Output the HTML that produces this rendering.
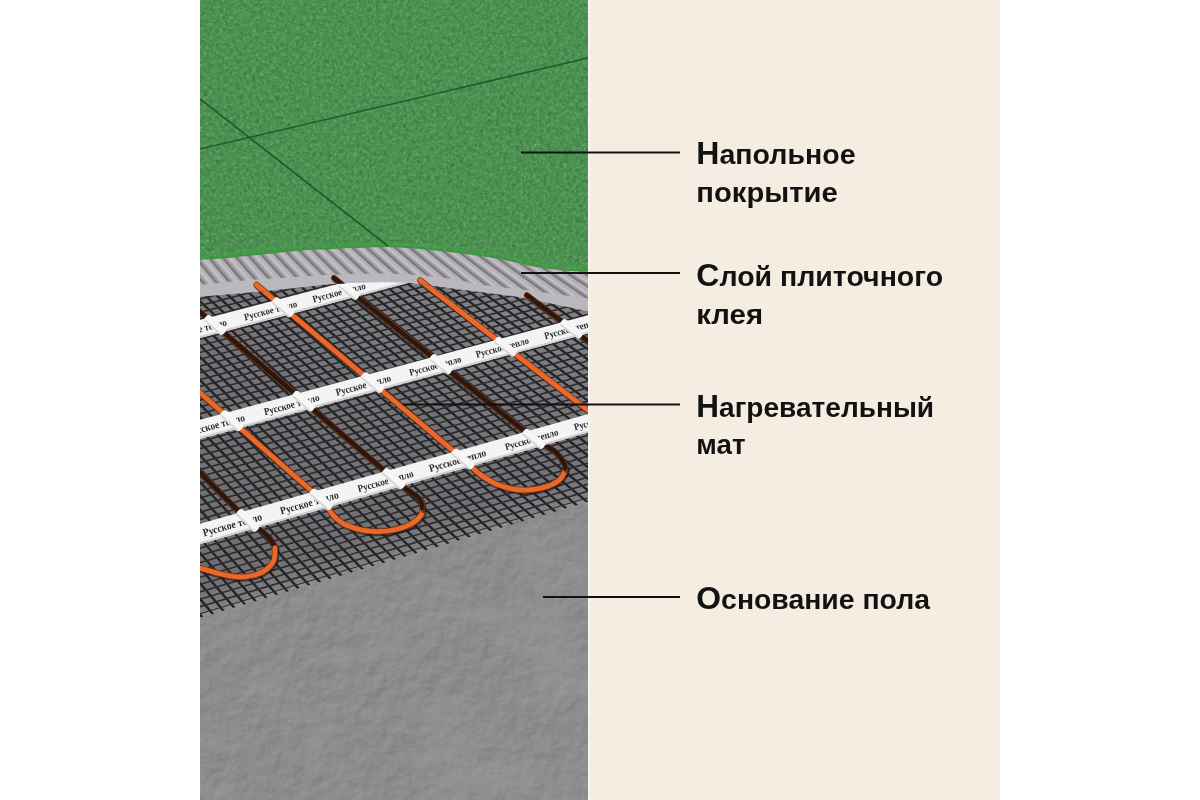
<!DOCTYPE html>
<html><head><meta charset="utf-8"><style>
html,body{margin:0;padding:0;background:#fff;}
body{width:1200px;height:800px;position:relative;overflow:hidden;}
</style></head><body>
<svg width="1200" height="800" viewBox="0 0 1200 800" style="position:absolute;left:0;top:0"><defs>
<clipPath id="ph"><rect x="200" y="0" width="388" height="800"/></clipPath>
<filter id="noiseG" x="0" y="0" width="100%" height="100%" color-interpolation-filters="sRGB">
  <feTurbulence type="fractalNoise" baseFrequency="0.25" numOctaves="3" seed="11" result="m"/>
  <feColorMatrix in="m" type="matrix" values="0 0 0 0 0.2  0 0 0 0 0.42  0 0 0 0 0.24  0 0 0 1.6 -0.72" result="mc"/>
  <feComposite in="mc" in2="SourceGraphic" operator="in" result="mk"/>
  <feTurbulence type="fractalNoise" baseFrequency="0.3" numOctaves="3" seed="5" result="m2"/>
  <feColorMatrix in="m2" type="matrix" values="0 0 0 0 0.42  0 0 0 0 0.7  0 0 0 0 0.45  0 0 0 1.6 -0.72" result="mc2"/>
  <feComposite in="mc2" in2="SourceGraphic" operator="in" result="mk2"/>
  <feTurbulence type="fractalNoise" baseFrequency="0.9" numOctaves="1" seed="3" result="n"/>
  <feColorMatrix in="n" type="matrix" values="0 0 0 0 0.7  0 0 0 0 0.9  0 0 0 0 0.7  0 0 0 3 -2.0" result="w"/>
  <feComposite in="w" in2="SourceGraphic" operator="in" result="wc"/>
  <feMerge><feMergeNode in="SourceGraphic"/><feMergeNode in="mk"/><feMergeNode in="mk2"/><feMergeNode in="wc"/></feMerge>
</filter>
<filter id="noiseC" x="0" y="0" width="100%" height="100%" color-interpolation-filters="sRGB">
  <feTurbulence type="fractalNoise" baseFrequency="0.07" numOctaves="4" seed="9" result="t"/>
  <feDiffuseLighting in="t" surfaceScale="1.6" diffuseConstant="1" lighting-color="#ffffff" result="l"><feDistantLight azimuth="235" elevation="50"/></feDiffuseLighting>
  <feComposite in="SourceGraphic" in2="l" operator="arithmetic" k1="0" k2="1" k3="0.22" k4="-0.165" result="lit"/>
  <feTurbulence type="fractalNoise" baseFrequency="0.012 0.02" numOctaves="2" seed="4" result="n"/>
  <feColorMatrix in="n" type="matrix" values="0 0 0 0 0.62  0 0 0 0 0.62  0 0 0 0 0.63  0 0 0 1.0 -0.42" result="w"/>
  <feComposite in="w" in2="SourceGraphic" operator="in" result="wc"/>
  <feMerge><feMergeNode in="lit"/><feMergeNode in="wc"/></feMerge>
</filter>
<pattern id="ribs" patternUnits="userSpaceOnUse" width="9" height="9" patternTransform="rotate(-40)">
  <rect width="9" height="9" fill="#a9a7ac"/>
  <rect x="0" width="2.6" height="9" fill="#6f6d72"/>
  <rect x="2.6" width="1.4" height="9" fill="#8a888d"/>
  <rect x="6.2" width="1.6" height="9" fill="#b8b6bb"/>
</pattern>
<pattern id="mesh" patternUnits="userSpaceOnUse" width="8.6" height="7.4" patternTransform="matrix(0.966,-0.259,0.77,0.638,0,0)">
  <path d="M0,0 H8.6 V7.4 H0 Z M1.9,1.9 V7.2 H8.4 V1.9 Z" fill="#1c1b1d" fill-rule="evenodd"/>
  <rect x="2.6" y="2.5" width="5.0" height="4.0" fill="#ffffff" opacity="0.07"/>
</pattern>
<linearGradient id="meshbg" gradientUnits="userSpaceOnUse" x1="420" y1="290" x2="330" y2="600">
  <stop offset="0" stop-color="#807f83"/><stop offset="0.4" stop-color="#737276"/><stop offset="1" stop-color="#707073"/>
</linearGradient>
</defs><rect x="588" y="0" width="412" height="800" fill="#f5ede1"/><rect x="588" y="0" width="1.6" height="800" fill="#faf6ef"/><g clip-path="url(#ph)" style="will-change:opacity" opacity="0.999"><rect x="200" y="0" width="388" height="800" fill="#8b8b8d" filter="url(#noiseC)"/><path d="M200.0,291.7 C208.3,291.0 233.3,289.0 250.0,287.5 C266.7,286.0 286.2,283.9 300.0,282.5 C313.8,281.1 321.8,279.8 333.0,279.0 C344.2,278.2 355.8,277.8 367.0,277.5 C378.2,277.2 391.7,277.2 400.0,277.5 C408.3,277.8 403.7,277.4 417.0,279.0 C430.3,280.6 463.4,284.9 480.0,287.0 C496.6,289.1 504.5,289.7 516.7,291.7 C528.9,293.7 541.5,296.6 553.4,299.0 C565.3,301.4 582.2,305.2 588.0,306.4 L588,498.2 L200,614.2 Z" fill="url(#meshbg)"/><linearGradient id="edgeg" gradientUnits="userSpaceOnUse" x1="391.4" y1="528.7" x2="400.0" y2="557.4"><stop offset="0" stop-color="#8a898c" stop-opacity="0"/><stop offset="1" stop-color="#8a898c" stop-opacity="0.75"/></linearGradient><path d="M200.0,291.7 C208.3,291.0 233.3,289.0 250.0,287.5 C266.7,286.0 286.2,283.9 300.0,282.5 C313.8,281.1 321.8,279.8 333.0,279.0 C344.2,278.2 355.8,277.8 367.0,277.5 C378.2,277.2 391.7,277.2 400.0,277.5 C408.3,277.8 403.7,277.4 417.0,279.0 C430.3,280.6 463.4,284.9 480.0,287.0 C496.6,289.1 504.5,289.7 516.7,291.7 C528.9,293.7 541.5,296.6 553.4,299.0 C565.3,301.4 582.2,305.2 588.0,306.4 L588,498.2 L200,614.2 Z" fill="url(#edgeg)"/><clipPath id="teethc"><path d="M200.0,291.7 C208.3,291.0 233.3,289.0 250.0,287.5 C266.7,286.0 286.2,283.9 300.0,282.5 C313.8,281.1 321.8,279.8 333.0,279.0 C344.2,278.2 355.8,277.8 367.0,277.5 C378.2,277.2 391.7,277.2 400.0,277.5 C408.3,277.8 403.7,277.4 417.0,279.0 C430.3,280.6 463.4,284.9 480.0,287.0 C496.6,289.1 504.5,289.7 516.7,291.7 C528.9,293.7 541.5,296.6 553.4,299.0 C565.3,301.4 582.2,305.2 588.0,306.4 L588,501.7 L200,617.7 Z"/></clipPath><clipPath id="meshc"><path d="M200.0,291.7 C208.3,291.0 233.3,289.0 250.0,287.5 C266.7,286.0 286.2,283.9 300.0,282.5 C313.8,281.1 321.8,279.8 333.0,279.0 C344.2,278.2 355.8,277.8 367.0,277.5 C378.2,277.2 391.7,277.2 400.0,277.5 C408.3,277.8 403.7,277.4 417.0,279.0 C430.3,280.6 463.4,284.9 480.0,287.0 C496.6,289.1 504.5,289.7 516.7,291.7 C528.9,293.7 541.5,296.6 553.4,299.0 C565.3,301.4 582.2,305.2 588.0,306.4 L588,498.2 L200,614.2 Z"/></clipPath><path clip-path="url(#teethc)" d="M78.2,661.9 L-172.8,314.8 M89.0,658.7 L-164.2,313.0 M99.7,655.4 L-155.5,311.3 M110.4,652.2 L-146.8,309.6 M121.2,649.0 L-138.1,307.9 M131.9,645.8 L-129.4,306.3 M142.7,642.5 L-120.6,304.6 M153.4,639.3 L-111.9,302.9 M164.1,636.1 L-103.1,301.2 M174.9,632.8 L-94.3,299.6 M185.6,629.6 L-85.5,297.9 M196.4,626.4 L-76.6,296.2 M207.1,623.1 L-67.8,294.6 M217.8,619.9 L-58.9,292.9 M228.6,616.7 L-50.0,291.2 M239.3,613.5 L-41.1,289.6 M250.0,610.2 L-32.2,287.9 M260.8,607.0 L-23.3,286.3 M271.5,603.8 L-14.3,284.7 M282.2,600.5 L-5.3,283.0 M293.0,597.3 L3.6,281.4 M303.7,594.1 L12.7,279.7 M314.4,590.8 L21.7,278.1 M325.2,587.6 L30.7,276.4 M335.9,584.4 L39.8,274.8 M346.6,581.1 L48.9,273.2 M357.4,577.9 L58.0,271.5 M368.1,574.7 L67.1,269.9 M378.8,571.5 L76.2,268.2 M389.6,568.2 L85.4,266.6 M400.3,565.0 L94.5,264.9 M411.0,561.8 L103.7,263.3 M421.8,558.5 L112.9,261.7 M432.5,555.3 L122.1,260.0 M443.2,552.1 L131.3,258.4 M453.9,548.8 L140.6,256.7 M464.7,545.6 L149.9,255.1 M475.4,542.4 L159.1,253.4 M486.1,539.2 L168.4,251.8 M496.9,535.9 L177.7,250.1 M507.6,532.7 L187.1,248.4 M518.3,529.5 L196.4,246.8 M529.0,526.2 L205.8,245.1 M539.8,523.0 L215.2,243.4 M550.5,519.8 L224.5,241.8 M561.2,516.5 L233.9,240.1 M571.9,513.3 L243.4,238.4 M582.7,510.1 L252.8,236.7 M593.4,506.9 L262.3,235.1 M604.1,503.6 L271.7,233.4 M614.8,500.4 L281.2,231.7 M625.6,497.2 L290.7,230.0 M636.3,493.9 L300.2,228.3 M647.0,490.7 L309.7,226.6 M657.7,487.5 L319.3,224.9 M668.5,484.2 L328.8,223.1 M679.2,481.0 L338.4,221.4 M689.9,477.8 L348.0,219.7 M700.6,474.6 L357.6,218.0 M711.3,471.3 L367.2,216.2 M722.1,468.1 L376.8,214.5 M732.8,464.9 L386.4,212.8 M743.5,461.6 L396.1,211.0 M754.2,458.4 L405.7,209.3 M765.0,455.2 L415.4,207.5 M775.7,452.0 L425.1,205.7 M786.4,448.7 L434.8,204.0 M797.1,445.5 L444.5,202.2" stroke="#222123" stroke-width="2.3" fill="none"/><path clip-path="url(#meshc)" d="M195,615.5 L595,496.0 M195,608.1 L595,489.0 M195,600.7 L595,482.0 M195,593.4 L595,475.0 M195,586.0 L595,468.0 M195,578.7 L595,461.1 M195,571.4 L595,454.1 M195,564.1 L595,447.2 M195,556.8 L595,440.3 M195,549.6 L595,433.4 M195,542.3 L595,426.5 M195,535.1 L595,419.7 M195,527.9 L595,412.8 M195,520.8 L595,406.0 M195,513.6 L595,399.2 M195,506.5 L595,392.4 M195,499.3 L595,385.7 M195,492.2 L595,378.9 M195,485.1 L595,372.2 M195,478.1 L595,365.5 M195,471.0 L595,358.8 M195,464.0 L595,352.1 M195,457.0 L595,345.4 M195,450.0 L595,338.8 M195,443.0 L595,332.2 M195,436.0 L595,325.5 M195,429.1 L595,318.9 M195,422.2 L595,312.4 M195,415.2 L595,305.8 M195,408.3 L595,299.2 M195,401.5 L595,292.7 M195,394.6 L595,286.2 M195,387.8 L595,279.7 M195,381.0 L595,273.2 M195,374.1 L595,266.8 M195,367.4 L595,260.3 M195,360.6 L595,253.9 M195,353.8 L595,247.5 M195,347.1 L595,241.1 M195,340.4 L595,234.7 M195,333.7 L595,228.3 M195,327.0 L595,222.0 M195,320.3 L595,215.6 M195,313.7 L595,209.3 M195,307.0 L595,203.0 M195,300.4 L595,196.7 M195,293.8 L595,190.4 M195,287.2 L595,184.2 M195,280.7 L595,177.9 M195,274.1 L595,171.7 M195,267.6 L595,165.5 M195,261.0 L595,159.3 M195,254.5 L595,153.1 M195,248.1 L595,147.0 M195,241.6 L595,140.8" stroke="#2c2b2e" stroke-width="1.6" fill="none"/><path d="M180.0,453.0 L252.5,525.0" transform="translate(1.2,1.6)" fill="none" stroke="#141012" stroke-width="6.4" stroke-linecap="round" opacity="0.55"/><path d="M180.0,453.0 L252.5,525.0" fill="none" stroke="#8a3a18" stroke-width="6.0" stroke-linecap="round"/><path d="M180.0,453.0 L252.5,525.0" fill="none" stroke="#2a1710" stroke-width="4.6" stroke-linecap="round"/><path d="M190.0,384.0 L326.8,504.3" transform="translate(1.2,1.6)" fill="none" stroke="#141012" stroke-width="6.4" stroke-linecap="round" opacity="0.55"/><path d="M190.0,384.0 L326.8,504.3" fill="none" stroke="#7a2e0e" stroke-width="6.2" stroke-linecap="round"/><path d="M190.0,384.0 L326.8,504.3" fill="none" stroke="#e8692a" stroke-width="4.8" stroke-linecap="round"/><path d="M195.0,307.7 L399.0,483.3" transform="translate(1.2,1.6)" fill="none" stroke="#141012" stroke-width="6.4" stroke-linecap="round" opacity="0.55"/><path d="M195.0,307.7 L399.0,483.3" fill="none" stroke="#8a3a18" stroke-width="6.0" stroke-linecap="round"/><path d="M195.0,307.7 L399.0,483.3" fill="none" stroke="#2a1710" stroke-width="4.6" stroke-linecap="round"/><path d="M256.6,284.9 L468.7,463.8" transform="translate(1.2,1.6)" fill="none" stroke="#141012" stroke-width="6.4" stroke-linecap="round" opacity="0.55"/><path d="M256.6,284.9 L468.7,463.8" fill="none" stroke="#7a2e0e" stroke-width="6.2" stroke-linecap="round"/><path d="M256.6,284.9 L468.7,463.8" fill="none" stroke="#e8692a" stroke-width="4.8" stroke-linecap="round"/><path d="M334.0,278.0 L538.7,442.7" transform="translate(1.2,1.6)" fill="none" stroke="#141012" stroke-width="6.4" stroke-linecap="round" opacity="0.55"/><path d="M334.0,278.0 L538.7,442.7" fill="none" stroke="#8a3a18" stroke-width="6.0" stroke-linecap="round"/><path d="M334.0,278.0 L538.7,442.7" fill="none" stroke="#2a1710" stroke-width="4.6" stroke-linecap="round"/><path d="M420.3,280.5 L600.0,419.7" transform="translate(1.2,1.6)" fill="none" stroke="#141012" stroke-width="6.4" stroke-linecap="round" opacity="0.55"/><path d="M420.3,280.5 L600.0,419.7" fill="none" stroke="#7a2e0e" stroke-width="6.2" stroke-linecap="round"/><path d="M420.3,280.5 L600.0,419.7" fill="none" stroke="#e8692a" stroke-width="4.8" stroke-linecap="round"/><path d="M526.8,295.2 L600.0,350.1" transform="translate(1.2,1.6)" fill="none" stroke="#141012" stroke-width="6.4" stroke-linecap="round" opacity="0.55"/><path d="M526.8,295.2 L600.0,350.1" fill="none" stroke="#8a3a18" stroke-width="6.0" stroke-linecap="round"/><path d="M526.8,295.2 L600.0,350.1" fill="none" stroke="#2a1710" stroke-width="4.6" stroke-linecap="round"/><path d="M252.5,525.0 C254.2,526.2 259.9,529.5 263.0,532.0 C266.1,534.5 269.0,537.3 271.0,540.0 C273.0,542.7 274.3,546.7 275.0,548.0" transform="translate(1.2,1.6)" fill="none" stroke="#141012" stroke-width="6.4" stroke-linecap="round" opacity="0.55"/><path d="M252.5,525.0 C254.2,526.2 259.9,529.5 263.0,532.0 C266.1,534.5 269.0,537.3 271.0,540.0 C273.0,542.7 274.3,546.7 275.0,548.0" fill="none" stroke="#8a3a18" stroke-width="6.0" stroke-linecap="round"/><path d="M252.5,525.0 C254.2,526.2 259.9,529.5 263.0,532.0 C266.1,534.5 269.0,537.3 271.0,540.0 C273.0,542.7 274.3,546.7 275.0,548.0" fill="none" stroke="#2a1710" stroke-width="4.6" stroke-linecap="round"/><path d="M275.0,548.0 C274.8,550.0 275.3,556.5 274.0,560.0 C272.7,563.5 270.2,566.5 267.0,569.0 C263.8,571.5 259.5,573.7 255.0,575.0 C250.5,576.3 245.0,577.0 240.0,577.0 C235.0,577.0 230.0,576.0 225.0,575.0 C220.0,574.0 214.2,572.2 210.0,571.0 C205.8,569.8 204.2,569.5 200.0,568.0 C195.8,566.5 187.5,563.0 185.0,562.0" transform="translate(1.2,1.6)" fill="none" stroke="#141012" stroke-width="6.4" stroke-linecap="round" opacity="0.55"/><path d="M275.0,548.0 C274.8,550.0 275.3,556.5 274.0,560.0 C272.7,563.5 270.2,566.5 267.0,569.0 C263.8,571.5 259.5,573.7 255.0,575.0 C250.5,576.3 245.0,577.0 240.0,577.0 C235.0,577.0 230.0,576.0 225.0,575.0 C220.0,574.0 214.2,572.2 210.0,571.0 C205.8,569.8 204.2,569.5 200.0,568.0 C195.8,566.5 187.5,563.0 185.0,562.0" fill="none" stroke="#7a2e0e" stroke-width="6.2" stroke-linecap="round"/><path d="M275.0,548.0 C274.8,550.0 275.3,556.5 274.0,560.0 C272.7,563.5 270.2,566.5 267.0,569.0 C263.8,571.5 259.5,573.7 255.0,575.0 C250.5,576.3 245.0,577.0 240.0,577.0 C235.0,577.0 230.0,576.0 225.0,575.0 C220.0,574.0 214.2,572.2 210.0,571.0 C205.8,569.8 204.2,569.5 200.0,568.0 C195.8,566.5 187.5,563.0 185.0,562.0" fill="none" stroke="#e8692a" stroke-width="4.8" stroke-linecap="round"/><path d="M326.8,504.3 C327.8,506.1 329.4,511.3 332.7,514.8 C336.0,518.3 340.5,522.6 346.7,525.3 C352.9,528.0 362.2,530.4 370.0,531.2 C377.8,532.0 386.5,531.2 393.3,530.0 C400.1,528.8 406.1,526.7 410.8,524.2 C415.5,521.7 419.4,517.5 421.3,514.8 C423.2,512.1 422.3,509.1 422.5,508.0" transform="translate(1.2,1.6)" fill="none" stroke="#141012" stroke-width="6.4" stroke-linecap="round" opacity="0.55"/><path d="M326.8,504.3 C327.8,506.1 329.4,511.3 332.7,514.8 C336.0,518.3 340.5,522.6 346.7,525.3 C352.9,528.0 362.2,530.4 370.0,531.2 C377.8,532.0 386.5,531.2 393.3,530.0 C400.1,528.8 406.1,526.7 410.8,524.2 C415.5,521.7 419.4,517.5 421.3,514.8 C423.2,512.1 422.3,509.1 422.5,508.0" fill="none" stroke="#7a2e0e" stroke-width="6.2" stroke-linecap="round"/><path d="M326.8,504.3 C327.8,506.1 329.4,511.3 332.7,514.8 C336.0,518.3 340.5,522.6 346.7,525.3 C352.9,528.0 362.2,530.4 370.0,531.2 C377.8,532.0 386.5,531.2 393.3,530.0 C400.1,528.8 406.1,526.7 410.8,524.2 C415.5,521.7 419.4,517.5 421.3,514.8 C423.2,512.1 422.3,509.1 422.5,508.0" fill="none" stroke="#e8692a" stroke-width="4.8" stroke-linecap="round"/><path d="M422.5,508.0 C422.2,507.0 421.8,503.8 421.0,502.0 C420.2,500.2 420.5,499.6 417.8,497.3 C415.1,495.0 408.1,490.3 405.0,488.0 C401.9,485.7 400.0,484.1 399.0,483.3" transform="translate(1.2,1.6)" fill="none" stroke="#141012" stroke-width="6.4" stroke-linecap="round" opacity="0.55"/><path d="M422.5,508.0 C422.2,507.0 421.8,503.8 421.0,502.0 C420.2,500.2 420.5,499.6 417.8,497.3 C415.1,495.0 408.1,490.3 405.0,488.0 C401.9,485.7 400.0,484.1 399.0,483.3" fill="none" stroke="#8a3a18" stroke-width="6.0" stroke-linecap="round"/><path d="M422.5,508.0 C422.2,507.0 421.8,503.8 421.0,502.0 C420.2,500.2 420.5,499.6 417.8,497.3 C415.1,495.0 408.1,490.3 405.0,488.0 C401.9,485.7 400.0,484.1 399.0,483.3" fill="none" stroke="#2a1710" stroke-width="4.6" stroke-linecap="round"/><path d="M468.7,463.8 C470.4,465.4 474.5,470.3 479.2,473.7 C483.9,477.1 489.9,481.5 496.7,484.2 C503.5,486.9 512.2,489.4 520.0,490.0 C527.8,490.6 536.9,489.2 543.3,487.7 C549.7,486.1 554.9,483.4 558.5,480.7 C562.1,478.0 563.9,473.4 565.0,471.3 C566.1,469.2 565.2,468.6 565.3,468.0" transform="translate(1.2,1.6)" fill="none" stroke="#141012" stroke-width="6.4" stroke-linecap="round" opacity="0.55"/><path d="M468.7,463.8 C470.4,465.4 474.5,470.3 479.2,473.7 C483.9,477.1 489.9,481.5 496.7,484.2 C503.5,486.9 512.2,489.4 520.0,490.0 C527.8,490.6 536.9,489.2 543.3,487.7 C549.7,486.1 554.9,483.4 558.5,480.7 C562.1,478.0 563.9,473.4 565.0,471.3 C566.1,469.2 565.2,468.6 565.3,468.0" fill="none" stroke="#7a2e0e" stroke-width="6.2" stroke-linecap="round"/><path d="M468.7,463.8 C470.4,465.4 474.5,470.3 479.2,473.7 C483.9,477.1 489.9,481.5 496.7,484.2 C503.5,486.9 512.2,489.4 520.0,490.0 C527.8,490.6 536.9,489.2 543.3,487.7 C549.7,486.1 554.9,483.4 558.5,480.7 C562.1,478.0 563.9,473.4 565.0,471.3 C566.1,469.2 565.2,468.6 565.3,468.0" fill="none" stroke="#e8692a" stroke-width="4.8" stroke-linecap="round"/><path d="M565.3,468.0 C564.9,467.0 564.9,464.8 563.2,462.0 C561.5,459.2 558.5,454.5 555.0,451.5 C551.5,448.5 544.9,445.4 542.2,443.9 C539.5,442.4 539.3,442.9 538.7,442.7" transform="translate(1.2,1.6)" fill="none" stroke="#141012" stroke-width="6.4" stroke-linecap="round" opacity="0.55"/><path d="M565.3,468.0 C564.9,467.0 564.9,464.8 563.2,462.0 C561.5,459.2 558.5,454.5 555.0,451.5 C551.5,448.5 544.9,445.4 542.2,443.9 C539.5,442.4 539.3,442.9 538.7,442.7" fill="none" stroke="#8a3a18" stroke-width="6.0" stroke-linecap="round"/><path d="M565.3,468.0 C564.9,467.0 564.9,464.8 563.2,462.0 C561.5,459.2 558.5,454.5 555.0,451.5 C551.5,448.5 544.9,445.4 542.2,443.9 C539.5,442.4 539.3,442.9 538.7,442.7" fill="none" stroke="#2a1710" stroke-width="4.6" stroke-linecap="round"/><path d="M200,320.0 L420,262.5 L420,279.70000000000005 L200,338.0 Z" fill="#f4f4f5"/><path d="M200,337.0 L420,278.70000000000005" stroke="#d0d0d4" stroke-width="2"/><text transform="translate(172.3,336.3) rotate(-14.7)" y="3.3" font-family="Liberation Serif" font-weight="bold" font-size="10.1" fill="#2b2b2d" textLength="56.1" lengthAdjust="spacingAndGlyphs">Русское тепло</text><text transform="translate(244.3,317.3) rotate(-14.7)" y="3.2" font-family="Liberation Serif" font-weight="bold" font-size="9.8" fill="#2b2b2d" textLength="54.4" lengthAdjust="spacingAndGlyphs">Русское тепло</text><text transform="translate(312.7,299.3) rotate(-14.7)" y="3.2" font-family="Liberation Serif" font-weight="bold" font-size="9.8" fill="#2b2b2d" textLength="54.4" lengthAdjust="spacingAndGlyphs">Русское тепло</text><g transform="translate(215.1,325.0) rotate(40.7)"><rect x="-12.5" y="-4.2" width="24.9" height="8.4" rx="3.5" fill="#f6f6f7"/><rect x="-11.5" y="2.4" width="22.9" height="1.8" rx="0.9" fill="#d6d6da"/></g><g transform="translate(283.0,307.2) rotate(40.1)"><rect x="-12.3" y="-4.2" width="24.7" height="8.4" rx="3.5" fill="#f6f6f7"/><rect x="-11.3" y="2.4" width="22.7" height="1.8" rx="0.9" fill="#d6d6da"/></g><g transform="translate(348.7,289.9) rotate(38.8)"><rect x="-12.2" y="-4.2" width="24.5" height="8.4" rx="3.5" fill="#f6f6f7"/><rect x="-11.2" y="2.4" width="22.5" height="1.8" rx="0.9" fill="#d6d6da"/></g><path d="M200,419.7 L588,315.2 L588,333.40000000000003 L200,438.90000000000003 Z" fill="#f4f4f5"/><path d="M200,437.90000000000003 L588,332.40000000000003" stroke="#d0d0d4" stroke-width="2"/><text transform="translate(187.1,432.8) rotate(-15.1)" y="3.5" font-family="Liberation Serif" font-weight="bold" font-size="10.7" fill="#2b2b2d" textLength="59.6" lengthAdjust="spacingAndGlyphs">Русское тепло</text><text transform="translate(264.1,412.0) rotate(-15.1)" y="3.4" font-family="Liberation Serif" font-weight="bold" font-size="10.2" fill="#2b2b2d" textLength="57.0" lengthAdjust="spacingAndGlyphs">Русское тепло</text><text transform="translate(335.9,392.5) rotate(-15.1)" y="3.4" font-family="Liberation Serif" font-weight="bold" font-size="10.2" fill="#2b2b2d" textLength="56.8" lengthAdjust="spacingAndGlyphs">Русское тепло</text><text transform="translate(409.3,372.7) rotate(-15.1)" y="3.2" font-family="Liberation Serif" font-weight="bold" font-size="9.6" fill="#2b2b2d" textLength="53.6" lengthAdjust="spacingAndGlyphs">Русское тепло</text><text transform="translate(475.9,354.6) rotate(-15.1)" y="3.2" font-family="Liberation Serif" font-weight="bold" font-size="9.8" fill="#2b2b2d" textLength="54.6" lengthAdjust="spacingAndGlyphs">Русское тепло</text><text transform="translate(544.5,336.1) rotate(-15.1)" y="3.2" font-family="Liberation Serif" font-weight="bold" font-size="9.8" fill="#2b2b2d" textLength="54.6" lengthAdjust="spacingAndGlyphs">Русское тепло</text><g transform="translate(231.7,420.7) rotate(41.3)"><rect x="-13.1" y="-4.2" width="26.1" height="8.4" rx="3.5" fill="#f6f6f7"/><rect x="-12.1" y="2.4" width="24.1" height="1.8" rx="0.9" fill="#d6d6da"/></g><g transform="translate(303.7,401.2) rotate(40.7)"><rect x="-13.0" y="-4.2" width="25.9" height="8.4" rx="3.5" fill="#f6f6f7"/><rect x="-12.0" y="2.4" width="23.9" height="1.8" rx="0.9" fill="#d6d6da"/></g><g transform="translate(372.5,382.6) rotate(40.1)"><rect x="-12.9" y="-4.2" width="25.8" height="8.4" rx="3.5" fill="#f6f6f7"/><rect x="-11.9" y="2.4" width="23.8" height="1.8" rx="0.9" fill="#d6d6da"/></g><g transform="translate(441.0,364.1) rotate(38.8)"><rect x="-12.8" y="-4.2" width="25.6" height="8.4" rx="3.5" fill="#f6f6f7"/><rect x="-11.8" y="2.4" width="23.6" height="1.8" rx="0.9" fill="#d6d6da"/></g><g transform="translate(505.6,346.6) rotate(37.8)"><rect x="-12.7" y="-4.2" width="25.4" height="8.4" rx="3.5" fill="#f6f6f7"/><rect x="-11.7" y="2.4" width="23.4" height="1.8" rx="0.9" fill="#d6d6da"/></g><g transform="translate(571.5,328.8) rotate(36.9)"><rect x="-12.6" y="-4.2" width="25.2" height="8.4" rx="3.5" fill="#f6f6f7"/><rect x="-11.6" y="2.4" width="23.2" height="1.8" rx="0.9" fill="#d6d6da"/></g><path d="M200,523.8 L588,414.0 L588,432.6 L200,544.2 Z" fill="#f4f4f5"/><path d="M200,543.2 L588,431.6" stroke="#d0d0d4" stroke-width="2"/><text transform="translate(203.0,533.1) rotate(-15.9)" y="3.6" font-family="Liberation Serif" font-weight="bold" font-size="11.0" fill="#2b2b2d" textLength="61.1" lengthAdjust="spacingAndGlyphs">Русское тепло</text><text transform="translate(280.3,511.1) rotate(-15.9)" y="3.6" font-family="Liberation Serif" font-weight="bold" font-size="10.8" fill="#2b2b2d" textLength="60.3" lengthAdjust="spacingAndGlyphs">Русское тепло</text><text transform="translate(357.7,489.0) rotate(-15.9)" y="3.4" font-family="Liberation Serif" font-weight="bold" font-size="10.3" fill="#2b2b2d" textLength="57.6" lengthAdjust="spacingAndGlyphs">Русское тепло</text><text transform="translate(429.2,468.6) rotate(-15.9)" y="3.5" font-family="Liberation Serif" font-weight="bold" font-size="10.6" fill="#2b2b2d" textLength="58.9" lengthAdjust="spacingAndGlyphs">Русское тепло</text><text transform="translate(505.0,447.0) rotate(-15.9)" y="3.3" font-family="Liberation Serif" font-weight="bold" font-size="9.9" fill="#2b2b2d" textLength="55.2" lengthAdjust="spacingAndGlyphs">Русское тепло</text><text transform="translate(574.1,427.3) rotate(-15.9)" y="3.3" font-family="Liberation Serif" font-weight="bold" font-size="9.9" fill="#2b2b2d" textLength="55.2" lengthAdjust="spacingAndGlyphs">Русское тепло</text><g transform="translate(247.8,520.4) rotate(44.8)"><rect x="-13.6" y="-4.2" width="27.2" height="8.4" rx="3.5" fill="#f6f6f7"/><rect x="-12.6" y="2.4" width="25.2" height="1.8" rx="0.9" fill="#d6d6da"/></g><g transform="translate(321.2,499.4) rotate(41.3)"><rect x="-13.4" y="-4.2" width="26.8" height="8.4" rx="3.5" fill="#f6f6f7"/><rect x="-12.4" y="2.4" width="24.8" height="1.8" rx="0.9" fill="#d6d6da"/></g><g transform="translate(393.7,478.7) rotate(40.7)"><rect x="-13.3" y="-4.2" width="26.5" height="8.4" rx="3.5" fill="#f6f6f7"/><rect x="-12.3" y="2.4" width="24.5" height="1.8" rx="0.9" fill="#d6d6da"/></g><g transform="translate(463.0,459.0) rotate(40.1)"><rect x="-13.1" y="-4.2" width="26.2" height="8.4" rx="3.5" fill="#f6f6f7"/><rect x="-12.1" y="2.4" width="24.2" height="1.8" rx="0.9" fill="#d6d6da"/></g><g transform="translate(533.8,438.8) rotate(38.8)"><rect x="-12.9" y="-4.2" width="25.9" height="8.4" rx="3.5" fill="#f6f6f7"/><rect x="-11.9" y="2.4" width="23.9" height="1.8" rx="0.9" fill="#d6d6da"/></g><g transform="translate(600.2,419.8) rotate(37.8)"><rect x="-12.8" y="-4.2" width="25.5" height="8.4" rx="3.5" fill="#f6f6f7"/><rect x="-11.8" y="2.4" width="23.5" height="1.8" rx="0.9" fill="#d6d6da"/></g><path d="M588.0,271.0 C583.7,270.8 570.8,270.3 562.0,269.5 C553.2,268.7 545.3,267.8 535.0,266.0 C524.7,264.2 514.3,261.0 500.0,258.5 C485.7,256.0 465.7,253.2 449.0,251.2 C432.3,249.2 413.7,247.4 400.0,246.7 C386.3,245.9 378.2,246.4 367.0,246.7 C355.8,247.0 344.2,247.8 333.0,248.3 C321.8,248.9 311.0,249.2 300.0,250.0 C289.0,250.8 278.2,252.2 267.0,253.3 C255.8,254.4 244.2,255.7 233.0,256.7 C221.8,257.7 205.5,258.8 200.0,259.2 L200.0,296.7 C208.3,296.0 233.3,294.0 250.0,292.5 C266.7,291.0 286.2,288.9 300.0,287.5 C313.8,286.1 321.8,284.8 333.0,284.0 C344.2,283.2 355.8,282.8 367.0,282.5 C378.2,282.2 391.7,282.2 400.0,282.5 C408.3,282.8 403.7,282.4 417.0,284.0 C430.3,285.6 463.4,289.9 480.0,292.0 C496.6,294.1 504.5,294.7 516.7,296.7 C528.9,298.7 541.5,301.6 553.4,304.0 C565.3,306.4 582.2,310.2 588.0,311.4 Z" fill="#bab8bd"/><clipPath id="adhc"><path d="M588.0,271.0 C583.7,270.8 570.8,270.3 562.0,269.5 C553.2,268.7 545.3,267.8 535.0,266.0 C524.7,264.2 514.3,261.0 500.0,258.5 C485.7,256.0 465.7,253.2 449.0,251.2 C432.3,249.2 413.7,247.4 400.0,246.7 C386.3,245.9 378.2,246.4 367.0,246.7 C355.8,247.0 344.2,247.8 333.0,248.3 C321.8,248.9 311.0,249.2 300.0,250.0 C289.0,250.8 278.2,252.2 267.0,253.3 C255.8,254.4 244.2,255.7 233.0,256.7 C221.8,257.7 205.5,258.8 200.0,259.2 L200.0,296.7 C208.3,296.0 233.3,294.0 250.0,292.5 C266.7,291.0 286.2,288.9 300.0,287.5 C313.8,286.1 321.8,284.8 333.0,284.0 C344.2,283.2 355.8,282.8 367.0,282.5 C378.2,282.2 391.7,282.2 400.0,282.5 C408.3,282.8 403.7,282.4 417.0,284.0 C430.3,285.6 463.4,289.9 480.0,292.0 C496.6,294.1 504.5,294.7 516.7,296.7 C528.9,298.7 541.5,301.6 553.4,304.0 C565.3,306.4 582.2,310.2 588.0,311.4 Z"/></clipPath><g clip-path="url(#adhc)"><path d="M256.6,284.9 L267.3,293.9" transform="translate(1.2,1.6)" fill="none" stroke="#141012" stroke-width="6.4" stroke-linecap="round" opacity="0.55"/><path d="M256.6,284.9 L267.3,293.9" fill="none" stroke="#7a2e0e" stroke-width="6.2" stroke-linecap="round"/><path d="M256.6,284.9 L267.3,293.9" fill="none" stroke="#e8692a" stroke-width="4.8" stroke-linecap="round"/><path d="M334.0,278.0 L344.9,286.8" transform="translate(1.2,1.6)" fill="none" stroke="#141012" stroke-width="6.4" stroke-linecap="round" opacity="0.55"/><path d="M334.0,278.0 L344.9,286.8" fill="none" stroke="#8a3a18" stroke-width="6.0" stroke-linecap="round"/><path d="M334.0,278.0 L344.9,286.8" fill="none" stroke="#2a1710" stroke-width="4.6" stroke-linecap="round"/><path d="M420.3,280.5 L431.4,289.1" transform="translate(1.2,1.6)" fill="none" stroke="#141012" stroke-width="6.4" stroke-linecap="round" opacity="0.55"/><path d="M420.3,280.5 L431.4,289.1" fill="none" stroke="#7a2e0e" stroke-width="6.2" stroke-linecap="round"/><path d="M420.3,280.5 L431.4,289.1" fill="none" stroke="#e8692a" stroke-width="4.8" stroke-linecap="round"/><path d="M526.8,295.2 L538.0,303.6" transform="translate(1.2,1.6)" fill="none" stroke="#141012" stroke-width="6.4" stroke-linecap="round" opacity="0.55"/><path d="M526.8,295.2 L538.0,303.6" fill="none" stroke="#8a3a18" stroke-width="6.0" stroke-linecap="round"/><path d="M526.8,295.2 L538.0,303.6" fill="none" stroke="#2a1710" stroke-width="4.6" stroke-linecap="round"/></g><clipPath id="ribc"><path d="M588.0,271.0 C583.7,270.8 570.8,270.3 562.0,269.5 C553.2,268.7 545.3,267.8 535.0,266.0 C524.7,264.2 514.3,261.0 500.0,258.5 C485.7,256.0 465.7,253.2 449.0,251.2 C432.3,249.2 413.7,247.4 400.0,246.7 C386.3,245.9 378.2,246.4 367.0,246.7 C355.8,247.0 344.2,247.8 333.0,248.3 C321.8,248.9 311.0,249.2 300.0,250.0 C289.0,250.8 278.2,252.2 267.0,253.3 C255.8,254.4 244.2,255.7 233.0,256.7 C221.8,257.7 205.5,258.8 200.0,259.2 L200.0,285.0 C208.3,284.2 233.3,281.4 250.0,280.0 C266.7,278.6 283.3,277.7 300.0,276.7 C316.7,275.7 333.3,274.4 350.0,274.0 C366.7,273.6 382.8,273.2 400.0,274.0 C417.2,274.8 439.7,277.2 453.0,279.0 C466.3,280.8 466.3,282.5 480.0,284.5 C493.7,286.5 517.0,288.9 535.0,291.2 C553.0,293.5 579.2,297.3 588.0,298.5 Z"/></clipPath><path d="M588.0,271.0 C583.7,270.8 570.8,270.3 562.0,269.5 C553.2,268.7 545.3,267.8 535.0,266.0 C524.7,264.2 514.3,261.0 500.0,258.5 C485.7,256.0 465.7,253.2 449.0,251.2 C432.3,249.2 413.7,247.4 400.0,246.7 C386.3,245.9 378.2,246.4 367.0,246.7 C355.8,247.0 344.2,247.8 333.0,248.3 C321.8,248.9 311.0,249.2 300.0,250.0 C289.0,250.8 278.2,252.2 267.0,253.3 C255.8,254.4 244.2,255.7 233.0,256.7 C221.8,257.7 205.5,258.8 200.0,259.2 L200.0,285.0 C208.3,284.2 233.3,281.4 250.0,280.0 C266.7,278.6 283.3,277.7 300.0,276.7 C316.7,275.7 333.3,274.4 350.0,274.0 C366.7,273.6 382.8,273.2 400.0,274.0 C417.2,274.8 439.7,277.2 453.0,279.0 C466.3,280.8 466.3,282.5 480.0,284.5 C493.7,286.5 517.0,288.9 535.0,291.2 C553.0,293.5 579.2,297.3 588.0,298.5 Z" fill="#b3b1b6"/><g clip-path="url(#ribc)"><path d="M78.8,214.7 l91.9,109.5" stroke="#7b797e" stroke-width="2.4"/><path d="M81.4,214.7 l91.9,109.5" stroke="#98969b" stroke-width="1.6"/><path d="M85.8,214.7 l91.9,109.5" stroke="#c3c1c6" stroke-width="2"/><path d="M92.2,214.7 l91.9,109.5" stroke="#7b797e" stroke-width="2.4"/><path d="M94.8,214.7 l91.9,109.5" stroke="#98969b" stroke-width="1.6"/><path d="M99.2,214.7 l91.9,109.5" stroke="#c3c1c6" stroke-width="2"/><path d="M105.7,214.7 l91.9,109.5" stroke="#7b797e" stroke-width="2.4"/><path d="M108.3,214.7 l91.9,109.5" stroke="#98969b" stroke-width="1.6"/><path d="M112.7,214.7 l91.9,109.5" stroke="#c3c1c6" stroke-width="2"/><path d="M119.1,214.7 l91.9,109.5" stroke="#7b797e" stroke-width="2.4"/><path d="M121.7,214.7 l91.9,109.5" stroke="#98969b" stroke-width="1.6"/><path d="M126.1,214.7 l91.9,109.5" stroke="#c3c1c6" stroke-width="2"/><path d="M132.6,214.7 l91.9,109.5" stroke="#7b797e" stroke-width="2.4"/><path d="M135.2,214.7 l91.9,109.5" stroke="#98969b" stroke-width="1.6"/><path d="M139.6,214.7 l91.9,109.5" stroke="#c3c1c6" stroke-width="2"/><path d="M146.0,214.7 l91.9,109.5" stroke="#7b797e" stroke-width="2.4"/><path d="M148.6,214.7 l91.9,109.5" stroke="#98969b" stroke-width="1.6"/><path d="M153.0,214.7 l91.9,109.5" stroke="#c3c1c6" stroke-width="2"/><path d="M159.5,214.7 l91.9,109.5" stroke="#7b797e" stroke-width="2.4"/><path d="M162.1,214.7 l91.9,109.5" stroke="#98969b" stroke-width="1.6"/><path d="M166.5,214.7 l91.9,109.5" stroke="#c3c1c6" stroke-width="2"/><path d="M172.9,214.7 l91.9,109.5" stroke="#7b797e" stroke-width="2.4"/><path d="M175.5,214.7 l91.9,109.5" stroke="#98969b" stroke-width="1.6"/><path d="M179.9,214.7 l91.9,109.5" stroke="#c3c1c6" stroke-width="2"/><path d="M186.2,214.9 l92.7,108.9" stroke="#7b797e" stroke-width="2.4"/><path d="M188.8,214.9 l92.7,108.9" stroke="#98969b" stroke-width="1.6"/><path d="M193.2,214.9 l92.7,108.9" stroke="#c3c1c6" stroke-width="2"/><path d="M199.3,215.1 l94.0,107.8" stroke="#7b797e" stroke-width="2.4"/><path d="M201.9,215.1 l94.0,107.8" stroke="#98969b" stroke-width="1.6"/><path d="M206.3,215.1 l94.0,107.8" stroke="#c3c1c6" stroke-width="2"/><path d="M212.5,215.4 l95.3,106.6" stroke="#7b797e" stroke-width="2.4"/><path d="M215.1,215.4 l95.3,106.6" stroke="#98969b" stroke-width="1.6"/><path d="M219.5,215.4 l95.3,106.6" stroke="#c3c1c6" stroke-width="2"/><path d="M225.8,215.7 l96.6,105.5" stroke="#7b797e" stroke-width="2.4"/><path d="M228.4,215.7 l96.6,105.5" stroke="#98969b" stroke-width="1.6"/><path d="M232.8,215.7 l96.6,105.5" stroke="#c3c1c6" stroke-width="2"/><path d="M239.1,215.9 l97.8,104.3" stroke="#7b797e" stroke-width="2.4"/><path d="M241.7,215.9 l97.8,104.3" stroke="#98969b" stroke-width="1.6"/><path d="M246.1,215.9 l97.8,104.3" stroke="#c3c1c6" stroke-width="2"/><path d="M252.4,216.2 l99.1,103.1" stroke="#7b797e" stroke-width="2.4"/><path d="M255.0,216.2 l99.1,103.1" stroke="#98969b" stroke-width="1.6"/><path d="M259.4,216.2 l99.1,103.1" stroke="#c3c1c6" stroke-width="2"/><path d="M265.8,216.5 l100.4,101.8" stroke="#7b797e" stroke-width="2.4"/><path d="M268.4,216.5 l100.4,101.8" stroke="#98969b" stroke-width="1.6"/><path d="M272.8,216.5 l100.4,101.8" stroke="#c3c1c6" stroke-width="2"/><path d="M279.2,216.8 l101.6,100.6" stroke="#7b797e" stroke-width="2.4"/><path d="M281.8,216.8 l101.6,100.6" stroke="#98969b" stroke-width="1.6"/><path d="M286.2,216.8 l101.6,100.6" stroke="#c3c1c6" stroke-width="2"/><path d="M292.7,217.1 l102.9,99.3" stroke="#7b797e" stroke-width="2.4"/><path d="M295.3,217.1 l102.9,99.3" stroke="#98969b" stroke-width="1.6"/><path d="M299.7,217.1 l102.9,99.3" stroke="#c3c1c6" stroke-width="2"/><path d="M306.3,217.4 l104.1,98.0" stroke="#7b797e" stroke-width="2.4"/><path d="M308.9,217.4 l104.1,98.0" stroke="#98969b" stroke-width="1.6"/><path d="M313.3,217.4 l104.1,98.0" stroke="#c3c1c6" stroke-width="2"/><path d="M319.9,217.7 l105.3,96.7" stroke="#7b797e" stroke-width="2.4"/><path d="M322.5,217.7 l105.3,96.7" stroke="#98969b" stroke-width="1.6"/><path d="M326.9,217.7 l105.3,96.7" stroke="#c3c1c6" stroke-width="2"/><path d="M333.5,218.0 l106.5,95.4" stroke="#7b797e" stroke-width="2.4"/><path d="M336.1,218.0 l106.5,95.4" stroke="#98969b" stroke-width="1.6"/><path d="M340.5,218.0 l106.5,95.4" stroke="#c3c1c6" stroke-width="2"/><path d="M347.3,218.3 l107.7,94.1" stroke="#7b797e" stroke-width="2.4"/><path d="M349.9,218.3 l107.7,94.1" stroke="#98969b" stroke-width="1.6"/><path d="M354.3,218.3 l107.7,94.1" stroke="#c3c1c6" stroke-width="2"/><path d="M361.1,218.6 l108.9,92.7" stroke="#7b797e" stroke-width="2.4"/><path d="M363.7,218.6 l108.9,92.7" stroke="#98969b" stroke-width="1.6"/><path d="M368.1,218.6 l108.9,92.7" stroke="#c3c1c6" stroke-width="2"/><path d="M375.1,218.9 l110.1,91.3" stroke="#7b797e" stroke-width="2.4"/><path d="M377.7,218.9 l110.1,91.3" stroke="#98969b" stroke-width="1.6"/><path d="M382.1,218.9 l110.1,91.3" stroke="#c3c1c6" stroke-width="2"/><path d="M389.1,219.3 l111.2,89.9" stroke="#7b797e" stroke-width="2.4"/><path d="M391.7,219.3 l111.2,89.9" stroke="#98969b" stroke-width="1.6"/><path d="M396.1,219.3 l111.2,89.9" stroke="#c3c1c6" stroke-width="2"/><path d="M403.2,219.6 l112.4,88.4" stroke="#7b797e" stroke-width="2.4"/><path d="M405.8,219.6 l112.4,88.4" stroke="#98969b" stroke-width="1.6"/><path d="M410.2,219.6 l112.4,88.4" stroke="#c3c1c6" stroke-width="2"/><path d="M417.4,219.9 l113.5,86.9" stroke="#7b797e" stroke-width="2.4"/><path d="M420.0,219.9 l113.5,86.9" stroke="#98969b" stroke-width="1.6"/><path d="M424.4,219.9 l113.5,86.9" stroke="#c3c1c6" stroke-width="2"/><path d="M431.7,220.3 l114.7,85.4" stroke="#7b797e" stroke-width="2.4"/><path d="M434.3,220.3 l114.7,85.4" stroke="#98969b" stroke-width="1.6"/><path d="M438.7,220.3 l114.7,85.4" stroke="#c3c1c6" stroke-width="2"/><path d="M446.1,220.6 l115.8,83.9" stroke="#7b797e" stroke-width="2.4"/><path d="M448.7,220.6 l115.8,83.9" stroke="#98969b" stroke-width="1.6"/><path d="M453.1,220.6 l115.8,83.9" stroke="#c3c1c6" stroke-width="2"/><path d="M460.6,221.0 l116.9,82.4" stroke="#7b797e" stroke-width="2.4"/><path d="M463.2,221.0 l116.9,82.4" stroke="#98969b" stroke-width="1.6"/><path d="M467.6,221.0 l116.9,82.4" stroke="#c3c1c6" stroke-width="2"/><path d="M475.3,221.4 l118.0,80.8" stroke="#7b797e" stroke-width="2.4"/><path d="M477.9,221.4 l118.0,80.8" stroke="#98969b" stroke-width="1.6"/><path d="M482.3,221.4 l118.0,80.8" stroke="#c3c1c6" stroke-width="2"/><path d="M490.1,221.7 l119.1,79.2" stroke="#7b797e" stroke-width="2.4"/><path d="M492.7,221.7 l119.1,79.2" stroke="#98969b" stroke-width="1.6"/><path d="M497.1,221.7 l119.1,79.2" stroke="#c3c1c6" stroke-width="2"/><path d="M505.1,222.1 l120.1,77.6" stroke="#7b797e" stroke-width="2.4"/><path d="M507.7,222.1 l120.1,77.6" stroke="#98969b" stroke-width="1.6"/><path d="M512.1,222.1 l120.1,77.6" stroke="#c3c1c6" stroke-width="2"/><path d="M520.2,222.5 l121.2,75.9" stroke="#7b797e" stroke-width="2.4"/><path d="M522.8,222.5 l121.2,75.9" stroke="#98969b" stroke-width="1.6"/><path d="M527.2,222.5 l121.2,75.9" stroke="#c3c1c6" stroke-width="2"/><path d="M535.4,222.9 l122.2,74.2" stroke="#7b797e" stroke-width="2.4"/><path d="M538.0,222.9 l122.2,74.2" stroke="#98969b" stroke-width="1.6"/><path d="M542.4,222.9 l122.2,74.2" stroke="#c3c1c6" stroke-width="2"/><path d="M550.9,223.3 l123.3,72.5" stroke="#7b797e" stroke-width="2.4"/><path d="M553.5,223.3 l123.3,72.5" stroke="#98969b" stroke-width="1.6"/><path d="M557.9,223.3 l123.3,72.5" stroke="#c3c1c6" stroke-width="2"/><path d="M566.7,223.5 l123.8,71.5" stroke="#7b797e" stroke-width="2.4"/><path d="M569.3,223.5 l123.8,71.5" stroke="#98969b" stroke-width="1.6"/><path d="M573.7,223.5 l123.8,71.5" stroke="#c3c1c6" stroke-width="2"/><path d="M582.7,223.5 l123.8,71.5" stroke="#7b797e" stroke-width="2.4"/><path d="M585.3,223.5 l123.8,71.5" stroke="#98969b" stroke-width="1.6"/><path d="M589.7,223.5 l123.8,71.5" stroke="#c3c1c6" stroke-width="2"/><path d="M598.7,223.5 l123.8,71.5" stroke="#7b797e" stroke-width="2.4"/><path d="M601.3,223.5 l123.8,71.5" stroke="#98969b" stroke-width="1.6"/><path d="M605.7,223.5 l123.8,71.5" stroke="#c3c1c6" stroke-width="2"/></g><path d="M200,0 L588,0 L588.0,271.0 C583.7,270.8 570.8,270.3 562.0,269.5 C553.2,268.7 545.3,267.8 535.0,266.0 C524.7,264.2 514.3,261.0 500.0,258.5 C485.7,256.0 465.7,253.2 449.0,251.2 C432.3,249.2 413.7,247.4 400.0,246.7 C386.3,245.9 378.2,246.4 367.0,246.7 C355.8,247.0 344.2,247.8 333.0,248.3 C321.8,248.9 311.0,249.2 300.0,250.0 C289.0,250.8 278.2,252.2 267.0,253.3 C255.8,254.4 244.2,255.7 233.0,256.7 C221.8,257.7 205.5,258.8 200.0,259.2 Z" fill="#4b904f" filter="url(#noiseG)"/><path d="M588.0,267.5 C583.7,267.2 570.8,266.8 562.0,266.0 C553.2,265.2 545.3,264.3 535.0,262.5 C524.7,260.7 514.3,257.5 500.0,255.0 C485.7,252.5 465.7,249.7 449.0,247.7 C432.3,245.7 413.7,243.9 400.0,243.2 C386.3,242.4 378.2,242.9 367.0,243.2 C355.8,243.5 344.2,244.2 333.0,244.8 C321.8,245.4 311.0,245.7 300.0,246.5 C289.0,247.3 278.2,248.7 267.0,249.8 C255.8,250.9 244.2,252.2 233.0,253.2 C221.8,254.2 205.5,255.3 200.0,255.7" fill="none" stroke="#44a247" stroke-width="4.5" opacity="0.45"/><path d="M588.0,271.0 C583.7,270.8 570.8,270.3 562.0,269.5 C553.2,268.7 545.3,267.8 535.0,266.0 C524.7,264.2 514.3,261.0 500.0,258.5 C485.7,256.0 465.7,253.2 449.0,251.2 C432.3,249.2 413.7,247.4 400.0,246.7 C386.3,245.9 378.2,246.4 367.0,246.7 C355.8,247.0 344.2,247.8 333.0,248.3 C321.8,248.9 311.0,249.2 300.0,250.0 C289.0,250.8 278.2,252.2 267.0,253.3 C255.8,254.4 244.2,255.7 233.0,256.7 C221.8,257.7 205.5,258.8 200.0,259.2" fill="none" stroke="#3d9541" stroke-width="1.4"/><path d="M200,149 L588,58" stroke="#1f5c28" stroke-width="1.6"/><path d="M200,99 L388,246" stroke="#1f5c28" stroke-width="1.6"/></g><rect x="521" y="151.5" width="159" height="2" fill="#111"/><rect x="521" y="272" width="159" height="2" fill="#111"/><rect x="403" y="403.5" width="277" height="2" fill="#111"/><rect x="543" y="596" width="137" height="2" fill="#111"/><g style="will-change:opacity" opacity="0.999"><text transform="translate(696.3,0) scale(1.002,1)" x="0" y="164.25" font-family="Liberation Sans" font-weight="bold" font-size="28.5" fill="#121212"><tspan font-size="32">Н</tspan>апольное</text><text transform="translate(696.3,0) scale(1.025,1)" x="0" y="202.0" font-family="Liberation Sans" font-weight="bold" font-size="28.5" fill="#121212">покрытие</text><text transform="translate(696.3,0) scale(1.0,1)" x="0" y="285.7" font-family="Liberation Sans" font-weight="bold" font-size="28.5" fill="#121212"><tspan font-size="32">С</tspan>лой плиточного</text><text transform="translate(696.3,0) scale(1.03,1)" x="0" y="324.0" font-family="Liberation Sans" font-weight="bold" font-size="28.5" fill="#121212">клея</text><text transform="translate(696.3,0) scale(0.985,1)" x="0" y="417.2" font-family="Liberation Sans" font-weight="bold" font-size="28.5" fill="#121212"><tspan font-size="32">Н</tspan>агревательный</text><text transform="translate(696.3,0) scale(0.975,1)" x="0" y="454.5" font-family="Liberation Sans" font-weight="bold" font-size="28.5" fill="#121212">мат</text><text transform="translate(696.3,0) scale(0.996,1)" x="0" y="609.5" font-family="Liberation Sans" font-weight="bold" font-size="28.5" fill="#121212"><tspan font-size="32">О</tspan>снование пола</text></g></svg>
</body></html>
